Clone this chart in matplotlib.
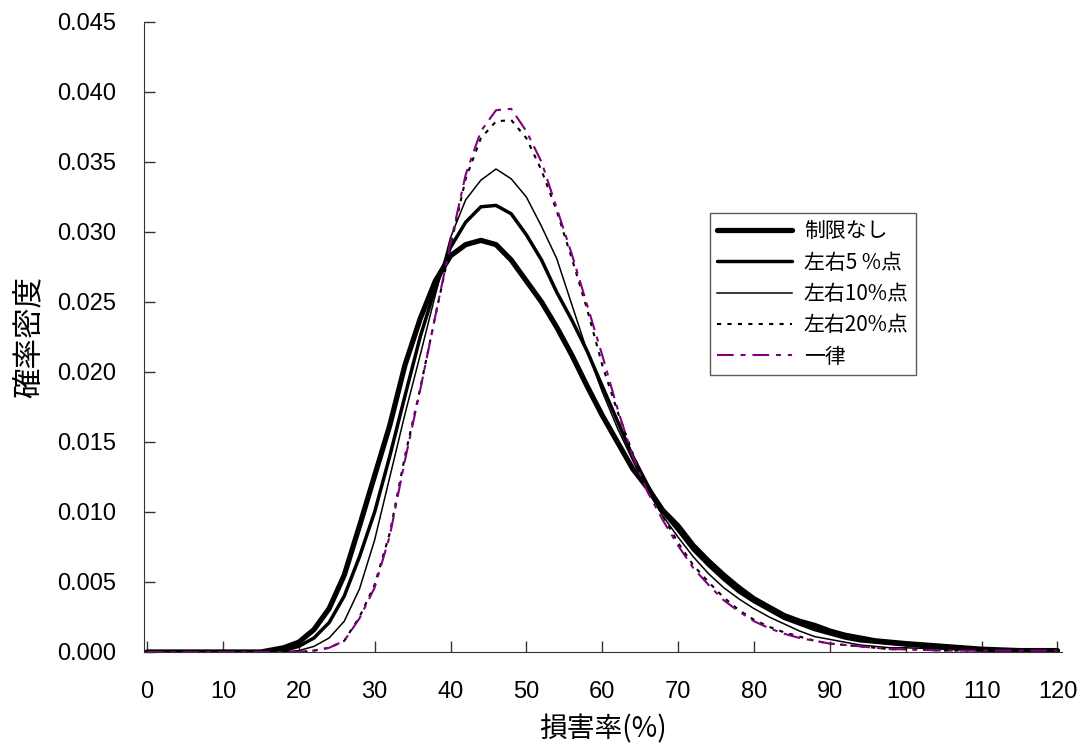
import matplotlib
matplotlib.use("Agg")
import matplotlib.pyplot as plt
import numpy as np

plt.rcParams['font.family'] = ['Liberation Sans', 'Noto Sans CJK JP', 'DejaVu Sans']

# 損害率(%)
x = [0, 5, 10, 15, 16, 18, 20, 22, 24, 26, 28, 30, 32, 34, 36, 38, 40, 42, 44, 46, 48,
     50, 52, 54, 56, 58, 60, 62, 64, 66, 68, 70, 72, 74, 76, 78, 80, 82, 84, 86, 88,
     90, 92, 94, 96, 98, 100, 105, 110, 115, 120]

# 制限なし
y_none = [0, 0, 0, 0, 0.0001, 0.0003, 0.0007, 0.0016, 0.0031, 0.0055, 0.0090, 0.0126,
          0.0162, 0.0205, 0.0238, 0.0265, 0.0283, 0.0291, 0.0294, 0.0291, 0.0280,
          0.0265, 0.0250, 0.0232, 0.0212, 0.0190, 0.0169, 0.0150, 0.0131, 0.0117,
          0.0101, 0.0090, 0.0076, 0.0065, 0.0055, 0.0046, 0.0038, 0.0032, 0.0026,
          0.0022, 0.0019, 0.0015, 0.0012, 0.0010, 0.0008, 0.0007, 0.0006, 0.0004,
          0.0002, 0.0001, 0.0001]
# 左右5%点
y_5 = [0, 0, 0, 0, 0, 0.0001, 0.0004, 0.0010, 0.0021, 0.0040, 0.0068, 0.0100,
       0.0140, 0.0183, 0.0225, 0.0260, 0.0289, 0.0307, 0.0318, 0.0319, 0.0313,
       0.0298, 0.0280, 0.0257, 0.0237, 0.0215, 0.0190, 0.0165, 0.0140, 0.0119,
       0.0100, 0.0087, 0.0073, 0.0062, 0.0052, 0.0043, 0.0036, 0.0030, 0.0024,
       0.0020, 0.0016, 0.0013, 0.0010, 0.0008, 0.0007, 0.0006, 0.0005, 0.0003,
       0.0002, 0.0001, 0.0001]
# 左右10%点
y_10 = [0, 0, 0, 0, 0, 0, 0.0001, 0.0004, 0.0010, 0.0022, 0.0045, 0.0080,
        0.0125, 0.0170, 0.0212, 0.0255, 0.0296, 0.0323, 0.0337, 0.0345, 0.0338,
        0.0325, 0.0304, 0.0281, 0.0248, 0.0215, 0.0186, 0.0160, 0.0137, 0.0115,
        0.0097, 0.0082, 0.0068, 0.0056, 0.0046, 0.0038, 0.0031, 0.0025, 0.0020,
        0.0015, 0.0011, 0.0009, 0.0007, 0.0005, 0.0004, 0.0003, 0.0003, 0.0002,
        0.0001, 0.0001, 0]
# 左右20%点
y_20 = [0, 0, 0, 0, 0, 0, 0, 0.0001, 0.0003, 0.0008, 0.0025, 0.0048,
        0.0085, 0.0140, 0.0188, 0.0240, 0.0290, 0.0338, 0.0367, 0.0379, 0.0380,
        0.0367, 0.0344, 0.0315, 0.0281, 0.0245, 0.0205, 0.0172, 0.0142, 0.0117,
        0.0097, 0.0078, 0.0062, 0.0050, 0.0039, 0.0030, 0.0023, 0.0018, 0.0014,
        0.0011, 0.0008, 0.0006, 0.0005, 0.0004, 0.0003, 0.0002, 0.0002, 0.0001,
        0.0001, 0, 0]
# 一律
y_flat = [0, 0, 0, 0, 0, 0, 0, 0.0001, 0.0003, 0.0008, 0.0024, 0.0046,
          0.0083, 0.0137, 0.0187, 0.0240, 0.0292, 0.0341, 0.0372, 0.0387, 0.0388,
          0.0372, 0.0350, 0.0317, 0.0284, 0.0248, 0.0212, 0.0174, 0.0140, 0.0114,
          0.0094, 0.0076, 0.0060, 0.0048, 0.0037, 0.0029, 0.0022, 0.0017, 0.0013,
          0.0010, 0.0008, 0.0006, 0.0005, 0.0004, 0.0003, 0.0002, 0.0002, 0.0001,
          0.0001, 0.0001, 0.0001]

fig = plt.figure(figsize=(10.82, 7.44), dpi=100)
ax = fig.add_axes([144 / 1082, 92 / 744, 918 / 1082, 630 / 744])

ax.plot(x, y_none, color='black', lw=3.8, solid_capstyle='round', label='制限なし')
ax.plot(x, y_5, color='black', lw=2.5, solid_capstyle='round', label='左右5 %点')
ax.plot(x, y_10, color='black', lw=1.1, label='左右10%点')
ax.plot(x, y_20, color='black', lw=1.5, linestyle=(0, (2, 3)), label='左右20%点')
ax.plot(x, y_flat, color='#800080', lw=1.5, linestyle=(0, (8, 3.3, 2.4, 3.3)), label='一律')

ax.set_xlim(-0.4, 120.6)
ax.set_ylim(0, 0.045)
ax.set_xticks(np.arange(0, 121, 10))
ax.set_yticks(np.arange(0, 0.0451, 0.005))
ax.set_yticklabels(['%.3f' % v for v in np.arange(0, 0.0451, 0.005)])
ax.tick_params(direction='in', length=8, width=1, labelsize=17, color='#333333')
ax.tick_params(axis='y', pad=20)
ax.tick_params(axis='x', pad=21)
for s in ['top', 'right']:
    ax.spines[s].set_visible(False)
for s in ['left', 'bottom']:
    ax.spines[s].set_color('#333333')

ax.set_xlabel('損害率(%)', fontsize=20, family=['Noto Sans CJK JP'], labelpad=8)
ax.set_ylabel('確率密度', fontsize=22, family=['Noto Sans CJK JP'], labelpad=9)

leg = ax.legend(loc='upper left', bbox_to_anchor=(710 / 1082, (744 - 213) / 744),
                bbox_transform=fig.transFigure, frameon=True,
                fancybox=False, edgecolor='#333333', handlelength=3.6,
                handletextpad=0.55, labelspacing=0.45, borderpad=0.35,
                borderaxespad=0, prop={'family': ['Noto Sans CJK JP'], 'size': 15})
leg.get_frame().set_linewidth(1.0)

plt.savefig('out.png', dpi=100)
